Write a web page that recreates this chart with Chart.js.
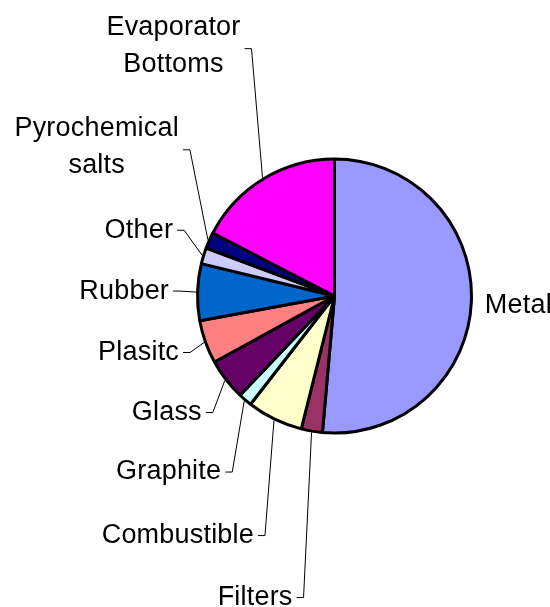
<!DOCTYPE html>
<html>
<head>
<meta charset="utf-8">
<script src="https://cdn.jsdelivr.net/npm/chart.js@4"></script>
<style>
  html, body { margin: 0; padding: 0; background: #fff; }
  #wrap { width: 550px; height: 607px; position: relative; }
</style>
</head>
<body>
<div id="wrap"><canvas id="wasteChart"></canvas></div>
<script>
// categories, clockwise from 12 o'clock
const categories = ['Metal', 'Filters', 'Combustible', 'Graphite', 'Glass',
  'Plasitc', 'Rubber', 'Other', 'Pyrochemical salts', 'Evaporator Bottoms'];
// share of total (%)
const shares = [51.4, 2.5, 6.6, 1.6, 4.9, 5.1, 6.7, 1.9, 1.9, 17.4];
// how the label text wraps
const labelLines = [['Metal'], ['Filters'], ['Combustible'], ['Graphite'], ['Glass'],
  ['Plasitc'], ['Rubber'], ['Other'], ['Pyrochemical', 'salts'], ['Evaporator', 'Bottoms']];

const sliceColors = ['#9999FF', '#993366', '#FFFFCC', '#CCFFFF', '#660066',
  '#FF8080', '#0066CC', '#CCCCFF', '#000080', '#FF00FF'];

// elbow of each leader line, relative to where it leaves the pie edge
const elbowOffsets = [[12, 3], [-8, 165], [-9, 115], [-12, 71], [-12, 32],
  [-14, 10], [-16, -1], [-18, -25], [-18, -90], [-11, -129]];

const FONT = '27px "Liberation Sans", Arial, sans-serif';
const LINE_H = 37;

const leaderLabels = {
  id: 'leaderLabels',
  afterDatasetsDraw(chart) {
    const ctx = chart.ctx;
    const arcs = chart.getDatasetMeta(0).data;
    ctx.save();
    ctx.font = FONT;
    ctx.letterSpacing = '0.2px';
    ctx.fillStyle = '#000';
    ctx.strokeStyle = '#000';
    ctx.lineWidth = 1;
    ctx.textBaseline = 'middle';
    arcs.forEach((arc, i) => {
      const p = arc.getProps(['x', 'y', 'startAngle', 'endAngle', 'outerRadius'], true);
      const mid = (p.startAngle + p.endAngle) / 2;
      const r = p.outerRadius + 1.5;
      const ex = p.x + Math.cos(mid) * r;
      const ey = p.y + Math.sin(mid) * r;
      const bx = ex + elbowOffsets[i][0];
      const by = ey + elbowOffsets[i][1];
      const lines = labelLines[i];
      if (i === 0) {
        // Metal sits beside its slice, no leader
        ctx.textAlign = 'left';
        ctx.fillText(lines[0], bx, by);
        return;
      }
      const stub = 7;
      ctx.beginPath();
      ctx.moveTo(ex, ey);
      ctx.lineTo(bx, by);
      ctx.lineTo(bx - stub, by);
      ctx.stroke();
      const w = Math.max(...lines.map(t => ctx.measureText(t).width));
      const right = bx - stub - 4;
      const cx = right - w / 2;
      ctx.textAlign = 'center';
      const top = lines.length > 1 ? by - 3 - (lines.length - 1) * LINE_H / 2 : by;
      lines.forEach((t, k) => ctx.fillText(t, cx, top + k * LINE_H));
    });
    ctx.restore();
  }
};

new Chart(document.getElementById('wasteChart'), {
  type: 'pie',
  data: {
    labels: categories,
    datasets: [{
      data: shares,
      backgroundColor: sliceColors,
      borderColor: '#000',
      borderWidth: 3
    }]
  },
  options: {
    responsive: true,
    maintainAspectRatio: false,
    animation: false,
    radius: 137,
    layout: { padding: { left: 119, right: 0, top: 0, bottom: 15 } },
    plugins: {
      legend: { display: false },
      tooltip: { enabled: false }
    }
  },
  plugins: [leaderLabels]
});
</script>
</body>
</html>
